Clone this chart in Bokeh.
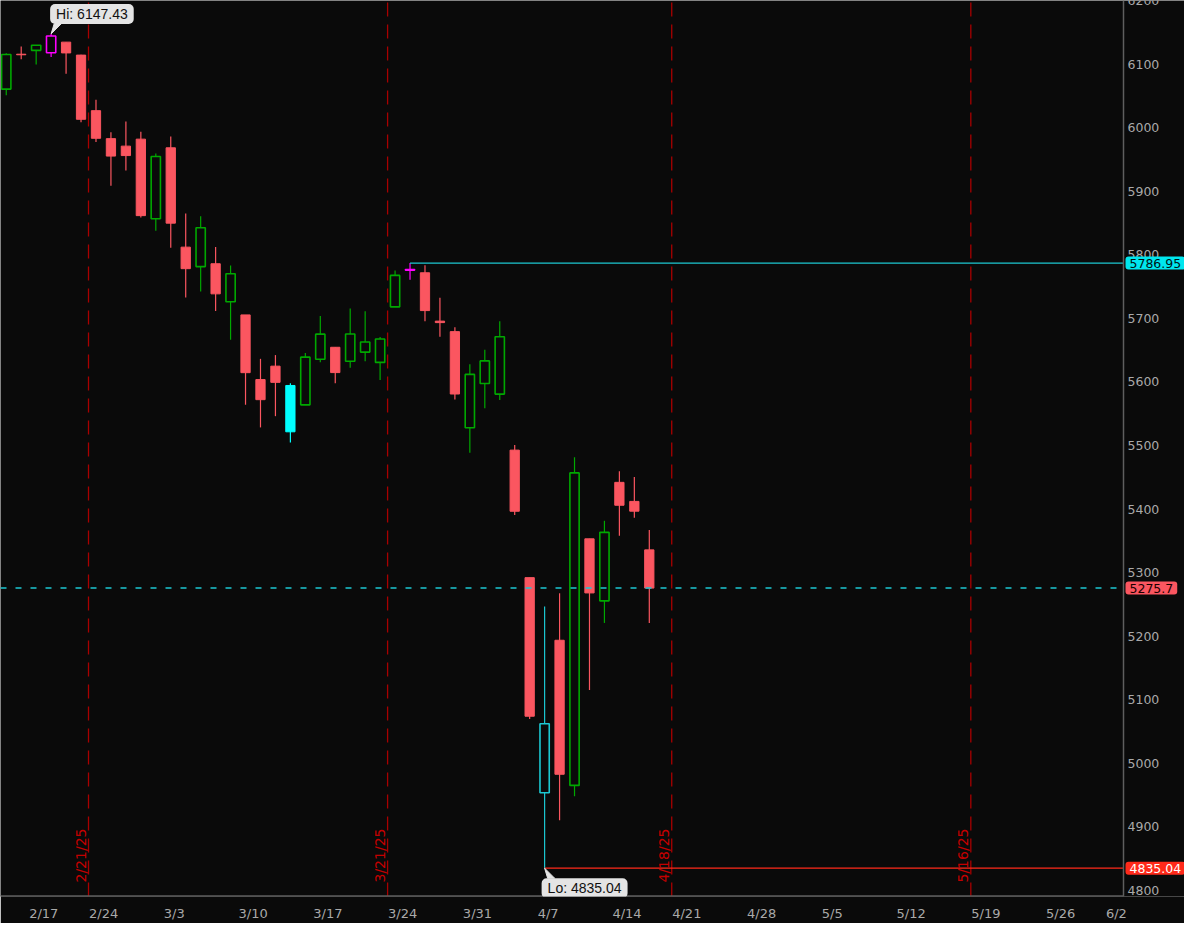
import numpy as np
import pandas as pd
from bokeh.plotting import figure
from bokeh.models import ColumnDataSource, Range1d, FixedTicker, Label
from bokeh.core.properties import value
from bokeh.embed import file_html
from bokeh.resources import INLINE

# ---------------- data ----------------
dates = ["2025-02-13", "2025-02-14", "2025-02-18", "2025-02-19", "2025-02-20", "2025-02-21",
         "2025-02-24", "2025-02-25", "2025-02-26", "2025-02-27", "2025-02-28",
         "2025-03-03", "2025-03-04", "2025-03-05", "2025-03-06", "2025-03-07",
         "2025-03-10", "2025-03-11", "2025-03-12", "2025-03-13", "2025-03-14",
         "2025-03-17", "2025-03-18", "2025-03-19", "2025-03-20", "2025-03-21",
         "2025-03-24", "2025-03-25", "2025-03-26", "2025-03-27", "2025-03-28",
         "2025-03-31", "2025-04-01", "2025-04-02", "2025-04-03", "2025-04-04",
         "2025-04-07", "2025-04-08", "2025-04-09", "2025-04-10", "2025-04-11",
         "2025-04-14", "2025-04-15", "2025-04-16"]
opens = [6060.6, 6115.5, 6121.6, 6117.8, 6134.5, 6114.1,
         6026.7, 5982.7, 5970.9, 5981.9, 5856.7,
         5968.3, 5812.0, 5781.4, 5785.9, 5726.0,
         5705.4, 5603.7, 5624.8, 5594.4, 5563.9,
         5635.6, 5654.5, 5632.4, 5646.9, 5630.7,
         5718.1, 5775.9, 5771.7, 5695.6, 5679.1,
         5527.9, 5597.5, 5580.8, 5492.7, 5292.1,
         4953.8, 5193.6, 4965.3, 5353.2, 5255.6,
         5442.0, 5412.0, 5335.8]
highs = [6116.9, 6127.5, 6129.6, 6147.43, 6134.5, 6114.8,
         6043.7, 5992.6, 6009.8, 5993.7, 5959.4,
         5986.1, 5865.1, 5860.6, 5812.1, 5783.0,
         5705.4, 5636.3, 5642.2, 5597.8, 5645.3,
         5703.5, 5654.5, 5715.3, 5711.2, 5670.8,
         5775.1, 5786.95, 5783.6, 5732.3, 5685.9,
         5627.6, 5650.6, 5695.3, 5500.6, 5292.1,
         5246.6, 5267.5, 5481.3, 5353.2, 5381.5,
         5459.5, 5450.4, 5367.2]
lows = [6051.0, 6107.6, 6099.5, 6111.2, 6084.6, 6008.6,
        5977.4, 5908.5, 5932.7, 5858.8, 5837.7,
        5810.9, 5732.6, 5742.4, 5711.6, 5666.3,
        5564.0, 5528.4, 5546.1, 5504.65, 5563.9,
        5631.1, 5597.8, 5622.2, 5632.6, 5603.1,
        5718.1, 5760.7, 5695.6, 5670.9, 5572.4,
        5488.7, 5558.5, 5571.5, 5390.8, 5069.9,
        4835.04, 4910.4, 4948.4, 5115.3, 5220.8,
        5358.0, 5386.4, 5220.8]
closes = [6115.07, 6114.63, 6129.58, 6144.15, 6117.52, 6013.13,
          5983.25, 5955.25, 5956.06, 5861.57, 5954.50,
          5849.72, 5778.15, 5842.63, 5738.52, 5770.20,
          5614.56, 5572.07, 5599.30, 5521.52, 5638.94,
          5675.12, 5614.66, 5675.29, 5662.89, 5667.56,
          5767.57, 5776.65, 5712.20, 5693.31, 5580.94,
          5611.85, 5633.07, 5670.97, 5396.52, 5074.08,
          5062.25, 4982.77, 5456.90, 5268.05, 5363.36,
          5405.97, 5396.63, 5275.70]

week_labels = ["2/17", "2/24", "3/3", "3/10", "3/17", "3/24", "3/31", "4/7", "4/14",
               "4/21", "4/28", "5/5", "5/12", "5/19", "5/26", "6/2"]
expiries = ["2025-02-21", "2025-03-21", "2025-04-18", "2025-05-16"]
expiry_labels = ["2/21/25", "3/21/25", "4/18/25", "5/16/25"]
holidays = ["2025-02-17", "2025-04-18", "2025-05-26"]
swing_high_date = "2025-03-25"
marked_date = "2025-03-13"
y_ticks = list(range(4800, 6201, 100))

# ---------------- styles ----------------
BG = "#0a0a0a"
RED = "#fb5660"
GREEN = "#00a800"
CYAN = "#1cc8d2"
CYAN_FILL = "#00ffff"
MAGENTA = "#ff00ff"
LO_RED = "#ff2a1a"
EXP_RED = "#a80000"
EXP_TXT = "#c40000"
AXIS_TXT = "#a9a9a9"
AXIS_LINE = "#5e5e5e"
FONT = "DejaVu Sans"

# ---------------- trading-day calendar ----------------
cal = pd.bdate_range("2025-02-13", "2025-06-20")
cal = cal[~cal.isin(pd.to_datetime(holidays))]
cal_vals = cal.values

def first_on_or_after(d):
    return int(np.searchsorted(cal_vals, np.datetime64(pd.Timestamp(d)), side="left"))

def last_on_or_before(d):
    return int(np.searchsorted(cal_vals, np.datetime64(pd.Timestamp(d)), side="right")) - 1

xi = np.array([first_on_or_after(d) for d in dates], dtype=float)
o = np.array(opens); h = np.array(highs); l = np.array(lows); c = np.array(closes)

week_bounds = []
for lab in week_labels:
    m, d = (int(t) for t in lab.split("/"))
    week_bounds.append(first_on_or_after("2025-%02d-%02d" % (m, d)) - 0.5)
exp_pos = [last_on_or_before(e) + 0.5 for e in expiries]

hi_i = int(np.argmax(h)); lo_i = int(np.argmin(l))
sw_i = dates.index(swing_high_date); mk_i = dates.index(marked_date)

line_cols, fill_cols, widths = [], [], []
for k in range(len(dates)):
    up = c[k] > o[k]
    if k == hi_i or k == sw_i:
        lc, fc, w = MAGENTA, BG, 1.6
    elif k == lo_i:
        lc, fc, w = CYAN, BG, 1.6
    elif k == mk_i:
        lc, fc, w = CYAN_FILL, CYAN_FILL, 1.0
    elif up:
        lc, fc, w = GREEN, BG, 1.6
    else:
        lc, fc, w = RED, RED, 1.0
    line_cols.append(lc); fill_cols.append(fc); widths.append(w)

src = ColumnDataSource(dict(x=xi, o=o, h=h, l=l, c=c,
                            top=np.maximum(o, c), bot=np.minimum(o, c),
                            lc=line_cols, fc=fill_cols, lw=widths))

# ---------------- figure ----------------
X0, X1 = -0.385, 74.71          # price area (left of the price scale)
Y0, Y1 = 4790.5, 6200.0
PW, FW, FH = 1123, 1184, 896     # price-area width, full frame width, frame height
pxx = PW / (X1 - X0)
pxy = FH / (Y1 - Y0)
XE = X0 + FW / pxx               # frame also holds the price-scale column

p = figure(frame_width=FW, frame_height=FH, output_backend="svg", toolbar_location=None,
           x_range=Range1d(X0, XE), y_range=Range1d(Y0, Y1),
           y_axis_location=None, x_axis_location="below",
           background_fill_color=BG, border_fill_color=BG, outline_line_color=None,
           min_border_left=0, min_border_top=0, min_border_right=0, min_border_bottom=17)
p.grid.grid_line_color = None

# expiry lines
p.segment(x0=exp_pos, y0=[Y0] * len(exp_pos), x1=exp_pos, y1=[Y1] * len(exp_pos),
          line_color=EXP_RED, line_dash="14 8", line_width=1.3)

# candles
p.segment(x0="x", y0="l", x1="x", y1="h", source=src, line_color="lc", line_width=1.2)
p.vbar(x="x", width=0.62, top="top", bottom="bot", source=src,
       fill_color="fc", line_color="lc", line_width="lw")

# horizontal levels
p.segment(x0=[xi[sw_i]], y0=[h[sw_i]], x1=[X1], y1=[h[sw_i]], line_color=CYAN, line_width=1.3)
p.segment(x0=[xi[lo_i]], y0=[l[lo_i]], x1=[X1], y1=[l[lo_i]], line_color=LO_RED, line_width=1.3)
p.segment(x0=[X0], y0=[c[-1]], x1=[X1], y1=[c[-1]], line_color=CYAN,
          line_dash="6 9", line_width=1.5)

# expiry labels (vertical)
exp_src = ColumnDataSource(dict(x=[e - 7.5 / pxx for e in exp_pos],
                                y=[Y0 + 14 / pxy] * len(exp_pos), t=expiry_labels))
p.text(x="x", y="y", text="t", source=exp_src, angle=np.pi / 2, text_align="left",
       text_baseline="alphabetic", text_color=EXP_TXT, text_font=value(FONT),
       text_font_size="14px")

# price scale: frame edges, tick labels
p.segment(x0=[X1], y0=[Y0], x1=[X1], y1=[Y1], line_color=AXIS_LINE, line_width=1.5)
p.segment(x0=[X0], y0=[Y0], x1=[X1], y1=[Y0], line_color=AXIS_LINE, line_width=2.5)
p.text(x=[X1 + 4 / pxx] * len(y_ticks), y=y_ticks, text=[str(t) for t in y_ticks],
       text_align="left", text_baseline="middle", text_color=AXIS_TXT,
       text_font=value(FONT), text_font_size="12.5px")

# price tags on the scale
def tag(v, txt, bg, fg):
    p.add_layout(Label(x=X1, y=v, text=txt, x_offset=2, text_baseline="middle",
                       text_align="left", background_fill_color=bg, text_color=fg,
                       text_font=FONT, text_font_size="12.5px",
                       padding=(4, 2), border_radius=3))

tag(h[sw_i], "%.2f" % h[sw_i], "#00e6ee", "#001414")
tag(c[-1], ("%.2f" % c[-1]).rstrip("0"), RED, "#1a0000")
tag(l[lo_i], "%.2f" % l[lo_i], LO_RED, "#ffffff")

# Hi / Lo callouts
def callout(xv, yv, txt, up):
    s = 1 if up else -1
    p.patch(x=[xv, xv + 3 / pxx, xv + 10 / pxx], y=[yv, yv + s * 10 / pxy, yv + s * 10 / pxy],
            fill_color="#e4e4e4", line_color="#e4e4e4")
    p.add_layout(Label(x=xv, y=yv, text=txt, x_offset=-1 if up else -3,
                       y_offset=s * 20, text_baseline="middle",
                       text_align="left", background_fill_color="#e4e4e4",
                       text_color="#111111", text_font="Liberation Sans",
                       text_font_size="14px", padding=(6, 2), border_radius=5))

callout(xi[hi_i], h[hi_i], "Hi: %.2f" % h[hi_i], True)
callout(xi[lo_i], l[lo_i], "Lo: %.2f" % l[lo_i], False)

# date axis: labels start at the week boundary
CH = {"/": 0.337}
def text_w(s, size=13.0):
    return sum(CH.get(ch, 0.636) for ch in s) * size

week_ticks = [b + (text_w(lab) / 2 + 0.5) / pxx for b, lab in zip(week_bounds, week_labels)]
xa = p.xaxis[0]
xa.ticker = FixedTicker(ticks=week_ticks)
xa.major_label_overrides = {t: lab for t, lab in zip(week_ticks, week_labels)}
xa.major_tick_line_color = None
xa.minor_tick_line_color = None
xa.major_label_standoff = 3
xa.axis_line_color = None
xa.major_label_text_color = AXIS_TXT
xa.major_label_text_font = FONT
xa.major_label_text_font_size = "13px"

open("out.html", "w").write(file_html(p, INLINE))
